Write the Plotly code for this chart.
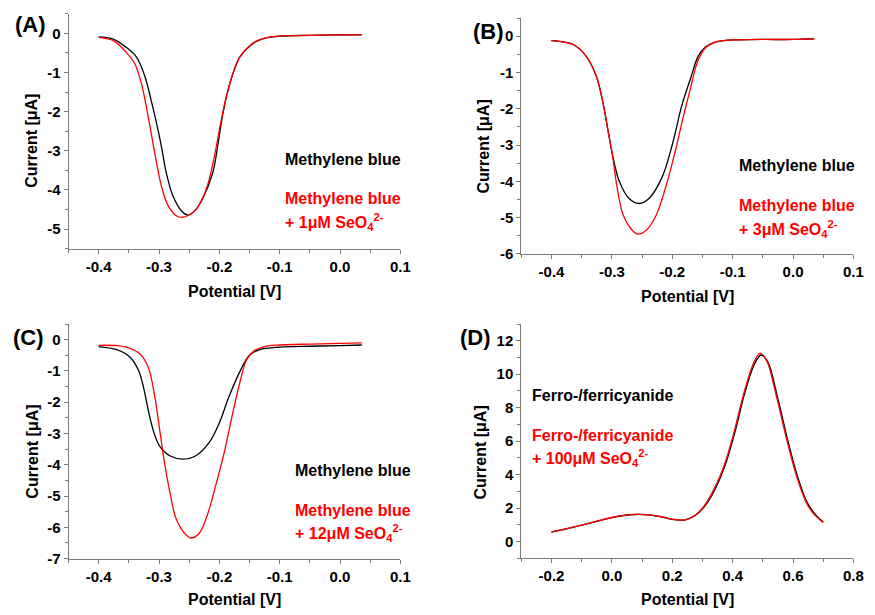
import plotly.graph_objects as go

# ---------------- data ----------------
# Panel A
a_black_x = [-0.400, -0.375, -0.354, -0.337, -0.323, -0.313, -0.304, -0.296, -0.288, -0.277, -0.263,
             -0.252, -0.240, -0.228, -0.211, -0.203, -0.196, -0.188, -0.178, -0.166, -0.148, -0.135,
             -0.120, -0.100, -0.050, 0.000, 0.036]
a_black_y = [-0.09, -0.15, -0.36, -0.61, -1.12, -1.71, -2.30, -2.89, -3.56, -4.15, -4.53,
             -4.64, -4.52, -4.23, -3.56, -2.90, -2.21, -1.60, -1.05, -0.60, -0.30, -0.18,
             -0.11, -0.07, -0.05, -0.04, -0.04]
a_red_x = [-0.400, -0.375, -0.354, -0.340, -0.329, -0.321, -0.313, -0.304, -0.296, -0.285, -0.272,
           -0.262, -0.250, -0.239, -0.229, -0.220, -0.209, -0.198, -0.189, -0.178, -0.166, -0.149,
           -0.135, -0.120, -0.100, -0.050, 0.000, 0.036]
a_red_y = [-0.10, -0.19, -0.49, -0.78, -1.29, -1.88, -2.55, -3.31, -3.90, -4.40, -4.65,
           -4.70, -4.64, -4.50, -4.25, -3.90, -3.20, -2.30, -1.65, -1.05, -0.60, -0.30,
           -0.17, -0.10, -0.07, -0.05, -0.04, -0.03]

# Panel B
b_black_x = [-0.400, -0.380, -0.364, -0.343, -0.326, -0.315, -0.307, -0.299, -0.288, -0.271, -0.255,
             -0.239, -0.217, -0.200, -0.184, -0.170, -0.157, -0.145, -0.130, -0.115, -0.090, -0.050,
             0.000, 0.035]
b_black_y = [-0.12, -0.16, -0.23, -0.54, -1.09, -1.81, -2.54, -3.26, -3.98, -4.48, -4.61,
             -4.48, -3.89, -2.99, -1.90, -1.18, -0.55, -0.30, -0.17, -0.12, -0.10, -0.09,
             -0.09, -0.07]
b_red_x = [-0.400, -0.380, -0.364, -0.343, -0.326, -0.315, -0.307, -0.299, -0.291, -0.282, -0.271,
           -0.258, -0.244, -0.228, -0.211, -0.195, -0.181, -0.170, -0.158, -0.145, -0.130, -0.115,
           -0.090, -0.050, 0.000, 0.035]
b_red_y = [-0.12, -0.16, -0.23, -0.54, -1.09, -1.81, -2.54, -3.28, -4.20, -4.89, -5.25,
           -5.45, -5.36, -4.98, -4.17, -3.17, -2.17, -1.45, -0.70, -0.32, -0.17, -0.12,
           -0.10, -0.09, -0.09, -0.07]

# Panel C
c_black_x = [-0.400, -0.370, -0.348, -0.334, -0.326, -0.318, -0.310, -0.299, -0.282, -0.261, -0.239,
             -0.217, -0.200, -0.184, -0.165, -0.150, -0.133, -0.100, -0.050, 0.000, 0.036]
c_black_y = [-0.22, -0.32, -0.56, -0.98, -1.50, -2.24, -2.87, -3.40, -3.71, -3.82, -3.71,
             -3.29, -2.66, -1.82, -0.98, -0.50, -0.32, -0.24, -0.21, -0.19, -0.17]
c_red_x = [-0.400, -0.370, -0.354, -0.332, -0.318, -0.307, -0.299, -0.291, -0.282, -0.272, -0.258,
           -0.247, -0.233, -0.220, -0.206, -0.192, -0.179, -0.165, -0.155, -0.142, -0.125, -0.100,
           -0.050, 0.000, 0.036]
c_red_y = [-0.18, -0.19, -0.24, -0.45, -0.87, -1.82, -2.87, -3.92, -4.87, -5.71, -6.18,
           -6.34, -6.18, -5.61, -4.66, -3.61, -2.45, -1.29, -0.65, -0.35, -0.22, -0.17,
           -0.14, -0.12, -0.10]

# Panel D
d_black_x = [-0.20, -0.15, -0.10, -0.05, 0.00, 0.04, 0.08, 0.12, 0.16, 0.20, 0.24, 0.275, 0.308,
             0.341, 0.374, 0.407, 0.439, 0.472, 0.494, 0.516, 0.549, 0.582, 0.614, 0.647, 0.675, 0.70]
d_black_y = [0.57, 0.76, 0.98, 1.21, 1.43, 1.56, 1.62, 1.60, 1.49, 1.33, 1.29, 1.55, 2.12,
             3.10, 4.50, 6.50, 8.80, 10.60, 11.15, 10.75, 8.60, 6.10, 3.95, 2.33, 1.60, 1.17]
d_red_x = [-0.20, -0.15, -0.10, -0.05, 0.00, 0.04, 0.08, 0.12, 0.16, 0.20, 0.24, 0.275, 0.306,
           0.338, 0.371, 0.404, 0.436, 0.469, 0.491, 0.513, 0.546, 0.579, 0.611, 0.644, 0.672, 0.70]
d_red_y = [0.58, 0.77, 0.99, 1.22, 1.44, 1.57, 1.63, 1.61, 1.50, 1.34, 1.29, 1.56, 2.14,
           3.12, 4.50, 6.50, 8.80, 10.65, 11.25, 10.80, 8.60, 6.10, 3.95, 2.33, 1.58, 1.15]

# tick labels
x_ticks_mb = [-0.4, -0.3, -0.2, -0.1, 0.0, 0.1]
x_ticktext_mb = ["-0.4", "-0.3", "-0.2", "-0.1", "0.0", "0.1"]
x_ticks_fc = [-0.2, 0.0, 0.2, 0.4, 0.6, 0.8]
x_ticktext_fc = ["-0.2", "0.0", "0.2", "0.4", "0.6", "0.8"]
y_ticks_a = [0, -1, -2, -3, -4, -5]
y_ticks_b = [0, -1, -2, -3, -4, -5, -6]
y_ticks_c = [0, -1, -2, -3, -4, -5, -6, -7]
y_ticks_d = [0, 2, 4, 6, 8, 10, 12]

panel_labels = ["(A)", "(B)", "(C)", "(D)"]
legend_black = ["Methylene blue", "Methylene blue", "Methylene blue", "Ferro-/ferricyanide"]
legend_red1 = ["Methylene blue", "Methylene blue", "Methylene blue", "Ferro-/ferricyanide"]
legend_red2 = ["+ 1\u03bcM SeO<sub>4</sub><sup>2-</sup>", "+ 3\u03bcM SeO<sub>4</sub><sup>2-</sup>",
               "+ 12\u03bcM SeO<sub>4</sub><sup>2-</sup>", "+ 100\u03bcM SeO<sub>4</sub><sup>2-</sup>"]

# ---------------- figure ----------------
W, H = 875, 615
FONT = "Liberation Sans, Arial, sans-serif"
AXC = "#7a7a7a"

fig = go.Figure()

def px2paper_x(p):
    return p / W

def px2paper_y(p):
    return 1 - p / H

panels = [
    ("", (69.3, 405), (14, 252), [-0.45, 0.1], [-5.5, 0.5], x_ticks_mb, x_ticktext_mb, y_ticks_a, 0.05, 0.5),
    ("2", (527.3, 863.3), (18.3, 257.3), [-0.45, 0.1], [-6, 0.5], x_ticks_mb, x_ticktext_mb, y_ticks_b, 0.05, 0.5),
    ("3", (69.3, 405), (328.3, 566), [-0.45, 0.1], [-7, 0.5], x_ticks_mb, x_ticktext_mb, y_ticks_c, 0.05, 0.5),
    ("4", (527.3, 863.3), (328.3, 565.7), [-0.3, 0.8], [-1, 13], x_ticks_fc, x_ticktext_fc, y_ticks_d, 0.1, 1),
]

data = [
    (a_black_x, a_black_y, a_red_x, a_red_y),
    (b_black_x, b_black_y, b_red_x, b_red_y),
    (c_black_x, c_black_y, c_red_x, c_red_y),
    (d_black_x, d_black_y, d_red_x, d_red_y),
]

layout_axes = {}
for i, (sfx, xd, yd, xr, yr, xt, xtt, yt, xmin, ymin) in enumerate(panels):
    bx, by, rx, ry = data[i]
    xa = "x" + sfx
    ya = "y" + sfx
    fig.add_trace(go.Scatter(x=bx, y=by, mode="lines", xaxis=xa, yaxis=ya,
                             line=dict(color="black", width=1.3, shape="spline", smoothing=1.0),
                             showlegend=False, hoverinfo="skip"))
    fig.add_trace(go.Scatter(x=rx, y=ry, mode="lines", xaxis=xa, yaxis=ya,
                             line=dict(color="#ff0000", width=1.3, shape="spline", smoothing=1.0),
                             showlegend=False, hoverinfo="skip"))
    common = dict(showline=True, linecolor=AXC, linewidth=1, ticks="outside", ticklen=4,
                  tickcolor=AXC, tickwidth=1, showgrid=False, zeroline=False, mirror=False,
                  tickfont=dict(family=FONT, size=15, color="black", weight="bold"),
                  fixedrange=True)
    layout_axes["xaxis" + sfx] = dict(
        domain=[px2paper_x(xd[0]), px2paper_x(xd[1])], range=xr, anchor=ya,
        tickmode="array", tickvals=xt, ticktext=xtt,
        minor=dict(ticks="outside", ticklen=3, tickcolor=AXC, dtick=xmin, tick0=0, showgrid=False),
        **common)
    layout_axes["yaxis" + sfx] = dict(
        domain=[px2paper_y(yd[1]), px2paper_y(yd[0])], range=yr, anchor=xa,
        tickmode="array", tickvals=yt, ticktext=[str(v) for v in yt],
        minor=dict(ticks="outside", ticklen=3, tickcolor=AXC, dtick=ymin, tick0=0, showgrid=False),
        **common)

fig.update_layout(**layout_axes)

ann = []
lab_pos = [(13, 25), (476, 32), (11, 342), (463, 342)]
for t, (x, y) in zip(panel_labels, lab_pos):
    ann.append(dict(text="<b>%s</b>" % t, x=px2paper_x(x), y=px2paper_y(y), xref="paper", yref="paper",
                    xanchor="left", yanchor="middle", showarrow=False,
                    font=dict(family=FONT, size=22, color="black")))

ytitle_pos = [(32, 143), (489, 148), (32, 458), (486, 458)]
xtitle_pos = [(237, 295), (695, 300), (237, 607), (695, 607)]
for (x, y) in ytitle_pos:
    ann.append(dict(text="<b>Current [\u03bcA]</b>", x=px2paper_x(x), y=px2paper_y(y), xref="paper",
                    yref="paper", xanchor="center", yanchor="middle", textangle=-90, showarrow=False,
                    font=dict(family=FONT, size=16, color="black")))
for (x, y) in xtitle_pos:
    ann.append(dict(text="<b>Potential [V]</b>", x=px2paper_x(x), y=px2paper_y(y), xref="paper",
                    yref="paper", xanchor="center", yanchor="middle", showarrow=False,
                    font=dict(family=FONT, size=16, color="black")))

leg_pos = [(286, 162, 201, 225), (746, 168, 208, 232), (296, 477, 517, 540), (536, 401, 441, 464)]
for i, (x, yb, yr1, yr2) in enumerate(leg_pos):
    ann.append(dict(text="<b>%s</b>" % legend_black[i], x=px2paper_x(x), y=px2paper_y(yb), xref="paper",
                    yref="paper", xanchor="left", yanchor="middle", showarrow=False,
                    font=dict(family=FONT, size=16, color="black")))
    ann.append(dict(text="<b>%s</b>" % legend_red1[i], x=px2paper_x(x), y=px2paper_y(yr1), xref="paper",
                    yref="paper", xanchor="left", yanchor="middle", showarrow=False,
                    font=dict(family=FONT, size=16, color="#ff0000")))
    ann.append(dict(text="<b>%s</b>" % legend_red2[i], x=px2paper_x(x), y=px2paper_y(yr2), xref="paper",
                    yref="paper", xanchor="left", yanchor="middle", showarrow=False,
                    font=dict(family=FONT, size=16, color="#ff0000")))

fig.update_layout(
    width=W, height=H, autosize=False,
    margin=dict(l=0, r=0, t=0, b=0, pad=0),
    paper_bgcolor="white", plot_bgcolor="white",
    annotations=ann, showlegend=False,
    font=dict(family=FONT, color="black"),
)

fig.write_html("out.html", config={"displayModeBar": False})
